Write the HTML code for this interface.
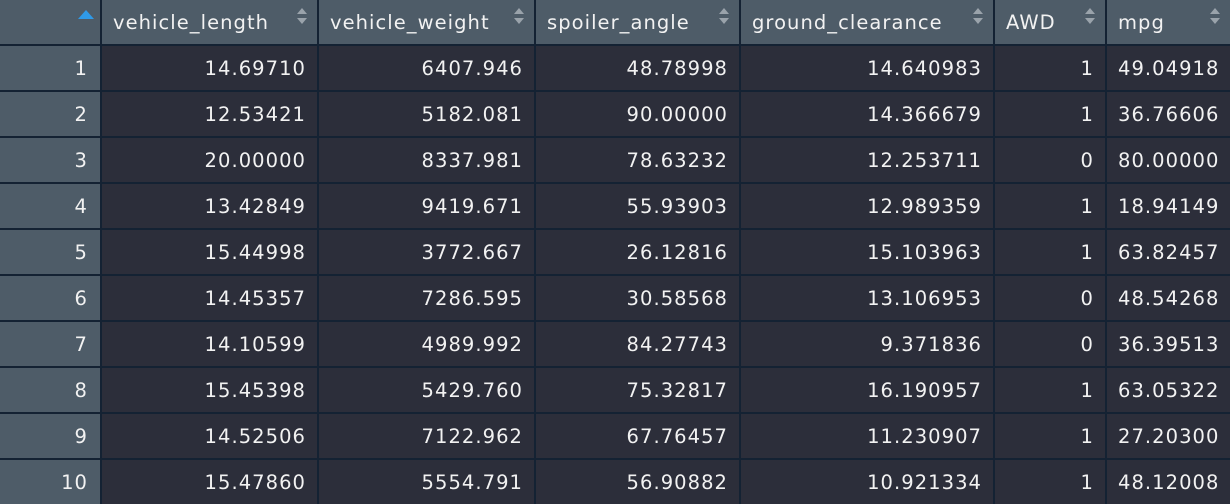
<!DOCTYPE html>
<html><head><meta charset="utf-8"><style>
html,body{margin:0;padding:0;background:#142233;width:1230px;height:504px;overflow:hidden}
#t{position:relative;width:1230px;height:504px;background:#142233;font-family:"DejaVu Sans","Liberation Sans",sans-serif;font-size:19.5px;letter-spacing:1.05px;color:#f2f2f2}
.c{position:absolute;box-sizing:border-box;display:flex;align-items:center;overflow:hidden;white-space:nowrap}
.h{background:#4e5c68;padding-left:11px}
.n{background:#4e5c68;justify-content:flex-end;padding-right:12px}
.d{background:#2c2e3a;justify-content:flex-end;padding-right:11px}
.m{background:#2c2e3a;padding-left:11px}
.s{position:absolute;right:10px;top:7px;width:10px;height:18px}
</style></head><body>
<div id="t"></div>
<script>
const headers=["vehicle_length","vehicle_weight","spoiler_angle","ground_clearance","AWD","mpg"];
const rows=[
["14.69710","6407.946","48.78998","14.640983","1","49.04918"],
["12.53421","5182.081","90.00000","14.366679","1","36.76606"],
["20.00000","8337.981","78.63232","12.253711","0","80.00000"],
["13.42849","9419.671","55.93903","12.989359","1","18.94149"],
["15.44998","3772.667","26.12816","15.103963","1","63.82457"],
["14.45357","7286.595","30.58568","13.106953","0","48.54268"],
["14.10599","4989.992","84.27743","9.371836","0","36.39513"],
["15.45398","5429.760","75.32817","16.190957","1","63.05322"],
["14.52506","7122.962","67.76457","11.230907","1","27.20300"],
["15.47860","5554.791","56.90882","10.921334","1","48.12008"]];
const edges=[0,102,319,536,741,995,1107,1230];
const t=document.getElementById('t');
function cell(cls,x0,x1,y,h,txt){const d=document.createElement('div');d.className='c '+cls;d.style.left=x0+'px';d.style.width=(x1-x0)+'px';d.style.top=y+'px';d.style.height=h+'px';d.textContent=txt;t.appendChild(d);return d;}
// header
const corner=cell('h',0,100,0,44,'');


corner.innerHTML='<svg style="position:absolute;left:78px;top:10px" width="16" height="9"><polygon points="0,9 8,0 16,9" fill="#2f9ae8"/></svg>';
for(let j=0;j<headers.length;j++){
 const x0=edges[j+1],x1=edges[j+2]-(j+2<edges.length-1?2:0);
 const d=cell('h',x0,x1,0,44,headers[j]);
 
 
 const s=document.createElementNS('http://www.w3.org/2000/svg','svg');
 s.setAttribute('class','s');s.setAttribute('viewBox','0 0 10 18');
 s.innerHTML='<polygon points="0,7 5,1 10,7" fill="#9aa3ab"/><polygon points="0,11 5,17 10,11" fill="#9aa3ab"/>';
 
 
 d.appendChild(s);
}
for(let i=0;i<rows.length;i++){
 const y=46+i*46,h=(i==rows.length-1)?504-y:44;
 const n=cell('n',0,100,y,h,String(i+1));
 
 
 for(let j=0;j<rows[i].length;j++){
  const x0=edges[j+1],x1=edges[j+2]-(j+2<edges.length-1?2:0);
  const d=cell(j==5?'m':'d',x0,x1,y,h,rows[i][j]);
  
  
 }
}
</script>
</body></html>
